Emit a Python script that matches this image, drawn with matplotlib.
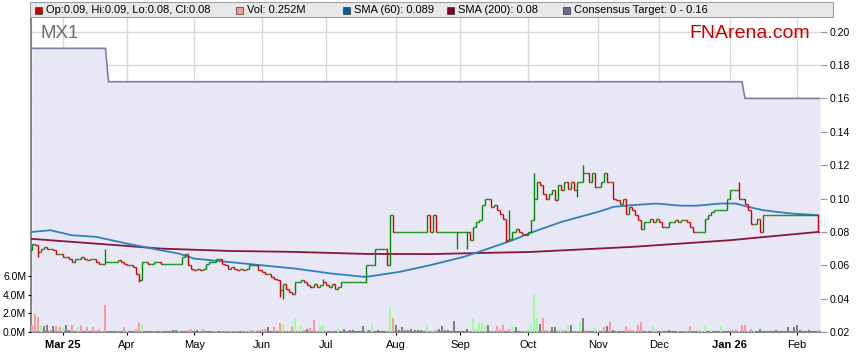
import numpy as np
import pandas as pd
import matplotlib
matplotlib.use('Agg')
import matplotlib.pyplot as plt
from matplotlib.collections import LineCollection
from matplotlib.patches import Rectangle

plt.rcParams['font.family'] = ['Liberation Sans', 'DejaVu Sans']

# trading days shown (weekdays), one OHLC bar per day
days = pd.bdate_range('2025-02-17', '2026-02-11')

first_open = 0.069
closes = [
    0.073, 0.072, 0.068, 0.070, 0.071, 0.070, 0.070, 0.069, 0.067, 0.067,   # 0
    0.065, 0.065, 0.064, 0.062, 0.064, 0.064, 0.065, 0.064, 0.063, 0.064,   # 10
    0.064, 0.062, 0.061, 0.061, 0.062, 0.062, 0.062, 0.062, 0.063, 0.062,   # 20
    0.061, 0.060, 0.060, 0.059, 0.055, 0.051, 0.062, 0.062, 0.061, 0.061,   # 30
    0.062, 0.062, 0.061, 0.061, 0.061, 0.061, 0.061, 0.061, 0.061, 0.065,   # 40
    0.067, 0.060, 0.058, 0.057, 0.058, 0.057, 0.058, 0.061, 0.062, 0.062,   # 50
    0.064, 0.064, 0.061, 0.060, 0.058, 0.059, 0.058, 0.057, 0.058, 0.057,   # 60
    0.058, 0.060, 0.060, 0.060, 0.057, 0.056, 0.055, 0.055, 0.053, 0.052,   # 70
    0.051, 0.045, 0.049, 0.046, 0.044, 0.043, 0.050, 0.050, 0.051, 0.050,   # 80
    0.048, 0.047, 0.049, 0.047, 0.048, 0.050, 0.048, 0.047, 0.049, 0.046,   # 90
    0.047, 0.050, 0.050, 0.050, 0.050, 0.050, 0.050, 0.050, 0.050, 0.060,   # 100
    0.060, 0.060, 0.070, 0.070, 0.070, 0.070, 0.060, 0.090, 0.080, 0.080,   # 110
    0.080, 0.080, 0.080, 0.080, 0.080, 0.080, 0.080, 0.080, 0.080, 0.090,   # 120
    0.080, 0.090, 0.080, 0.080, 0.080, 0.080, 0.080, 0.080, 0.080, 0.080,   # 130
    0.080, 0.080, 0.080, 0.075, 0.083, 0.086, 0.087, 0.096, 0.100, 0.100,   # 140
    0.095, 0.096, 0.093, 0.091, 0.088, 0.075, 0.076, 0.080, 0.082, 0.080,   # 150
    0.079, 0.078, 0.080, 0.087, 0.100, 0.110, 0.108, 0.103, 0.100, 0.103,   # 160
    0.105, 0.099, 0.108, 0.105, 0.110, 0.106, 0.110, 0.105, 0.110, 0.110,   # 170
    0.115, 0.115, 0.110, 0.115, 0.107, 0.107, 0.110, 0.115, 0.110, 0.110,   # 180
    0.100, 0.099, 0.097, 0.100, 0.091, 0.095, 0.093, 0.090, 0.087, 0.082,   # 190
    0.086, 0.086, 0.088, 0.086, 0.088, 0.086, 0.083, 0.083, 0.086, 0.086,   # 200
    0.087, 0.086, 0.087, 0.087, 0.086, 0.083, 0.080, 0.080, 0.080, 0.080,   # 210
    0.088, 0.090, 0.092, 0.093, 0.093, 0.093, 0.093, 0.100, 0.105, 0.105,   # 220
    0.105, 0.100, 0.100, 0.097, 0.093, 0.085, 0.085, 0.088, 0.080, 0.090,   # 230
    0.090, 0.090, 0.090, 0.090, 0.090, 0.090, 0.090, 0.090, 0.090, 0.090,   # 240
    0.090, 0.090, 0.090, 0.090, 0.090, 0.090, 0.090, 0.080,                 # 250
]
# wicks that reach past open/close
wick_high = {24: 0.070, 95: 0.052, 156: 0.093, 164: 0.115, 180: 0.120, 231: 0.110}
wick_low = {2: 0.065, 35: 0.050, 81: 0.041, 82: 0.040, 139: 0.070, 142: 0.070,
            155: 0.074, 178: 0.101}

# volume in millions: (day, volume, u=up / d=down / n=unchanged)
volume_bars = [
    (0, 0.8, 'd'), (1, 1.9, 'd'), (2, 1.6, 'd'), (3, 0.7, 'u'), (4, 0.6, 'n'),
    (5, 0.7, 'n'), (6, 0.25, 'd'), (7, 0.6, 'n'), (8, 0.6, 'd'), (9, 0.5, 'd'),
    (10, 0.4, 'u'), (11, 0.8, 'n'), (12, 0.25, 'n'), (13, 0.7, 'd'), (15, 0.5, 'u'),
    (16, 0.8, 'd'), (18, 0.5, 'd'), (20, 0.5, 'd'), (21, 0.25, 'd'), (22, 0.3, 'd'),
    (23, 0.1, 'u'), (24, 2.9, 'd'), (28, 0.15, 'd'), (30, 0.5, 'd'), (31, 0.1, 'u'),
    (34, 0.35, 'd'), (35, 1.0, 'd'), (36, 0.7, 'u'), (40, 0.15, 'd'), (42, 0.15, 'd'),
    (46, 0.25, 'n'), (47, 0.25, 'n'), (48, 0.1, 'u'), (51, 0.25, 'd'), (52, 0.35, 'd'),
    (54, 0.25, 'n'), (55, 0.15, 'd'), (56, 0.35, 'd'), (59, 0.1, 'd'), (60, 0.1, 'u'),
    (61, 0.1, 'n'), (62, 0.1, 'd'), (63, 0.1, 'd'), (64, 0.1, 'd'), (65, 0.1, 'u'),
    (66, 0.1, 'd'), (67, 0.1, 'd'), (69, 0.1, 'd'), (70, 0.15, 'u'), (71, 0.35, 'u'),
    (72, 0.25, 'd'), (73, 0.1, 'u'), (74, 0.25, 'd'), (75, 0.35, 'd'), (76, 0.35, 'd'),
    (77, 0.5, 'n'), (78, 0.15, 'n'), (79, 0.5, 'd'), (81, 1.0, 'd'), (82, 0.85, 'u'),
    (83, 0.15, 'd'), (84, 0.15, 'd'), (85, 0.6, 'd'), (86, 1.5, 'u'), (87, 0.25, 'u'),
    (88, 0.6, 'u'), (89, 0.2, 'd'), (90, 0.35, 'n'), (91, 0.4, 'd'), (92, 1.3, 'd'),
    (93, 0.15, 'u'), (94, 0.6, 'u'), (95, 0.8, 'u'), (96, 0.15, 'd'), (97, 0.1, 'n'),
    (98, 0.1, 'd'), (100, 0.5, 'u'), (102, 0.35, 'n'), (104, 0.25, 'n'), (105, 0.25, 'n'),
    (106, 0.1, 'n'), (108, 0.6, 'n'), (109, 0.35, 'u'), (110, 0.25, 'n'), (111, 0.7, 'u'),
    (112, 0.15, 'n'), (113, 0.25, 'n'), (115, 0.15, 'n'), (116, 0.15, 'd'), (117, 2.7, 'u'),
    (118, 1.5, 'd'), (119, 0.7, 'n'), (120, 0.25, 'n'), (121, 0.5, 'n'), (122, 0.25, 'n'),
    (123, 0.25, 'n'), (124, 0.3, 'n'), (125, 0.25, 'n'), (126, 0.25, 'n'), (127, 0.25, 'n'),
    (129, 0.7, 'u'), (130, 0.15, 'd'), (131, 0.15, 'u'), (132, 0.25, 'd'), (133, 0.35, 'n'),
    (134, 0.6, 'n'), (135, 0.25, 'n'), (136, 0.25, 'n'), (138, 1.2, 'n'), (139, 0.1, 'n'),
    (140, 0.15, 'n'), (141, 0.15, 'n'), (142, 0.35, 'n'), (143, 0.1, 'd'), (144, 1.45, 'u'),
    (145, 0.35, 'u'), (146, 0.95, 'u'), (147, 0.95, 'u'), (148, 0.6, 'u'), (149, 0.8, 'n'),
    (150, 0.15, 'd'), (151, 0.15, 'd'), (152, 0.6, 'd'), (153, 0.35, 'd'), (154, 0.8, 'd'),
    (155, 0.15, 'n'), (156, 0.35, 'd'), (157, 0.6, 'u'), (158, 0.5, 'n'), (159, 0.15, 'n'),
    (160, 0.15, 'd'), (161, 0.15, 'u'), (162, 0.35, 'u'), (163, 0.7, 'u'), (164, 4.1, 'u'),
    (165, 1.5, 'u'), (166, 0.9, 'n'), (167, 1.5, 'd'), (168, 0.25, 'd'), (169, 0.25, 'u'),
    (170, 0.5, 'n'), (171, 0.5, 'n'), (172, 0.35, 'u'), (173, 0.35, 'u'), (174, 0.25, 'd'),
    (175, 0.7, 'u'), (176, 0.7, 'n'), (177, 0.15, 'd'), (178, 0.15, 'u'), (179, 1.1, 'u'),
    (180, 1.5, 'n'), (181, 0.25, 'd'), (183, 0.1, 'n'), (184, 0.5, 'u'), (185, 0.25, 'u'),
    (187, 0.5, 'd'), (188, 0.6, 'n'), (189, 1.1, 'd'), (190, 0.25, 'n'), (191, 0.15, 'u'),
    (194, 0.6, 'd'), (195, 0.25, 'd'), (196, 0.25, 'd'), (197, 0.1, 'u'), (198, 0.7, 'd'),
    (199, 1.1, 'd'), (201, 0.15, 'd'), (203, 0.6, 'u'), (204, 0.15, 'd'), (206, 0.15, 'd'),
    (208, 0.25, 'n'), (210, 0.1, 'n'), (211, 0.1, 'u'), (213, 0.15, 'd'), (214, 0.15, 'd'),
    (215, 0.6, 'd'), (218, 0.35, 'u'), (219, 0.15, 'u'), (220, 0.8, 'u'), (221, 0.1, 'n'),
    (222, 0.25, 'u'), (225, 0.6, 'u'), (229, 0.25, 'd'), (230, 0.35, 'd'), (231, 0.1, 'u'),
    (232, 0.7, 'd'), (233, 0.7, 'd'), (234, 0.15, 'u'), (235, 0.35, 'd'), (236, 0.25, 'u'),
    (237, 0.1, 'n'), (238, 0.35, 'n'), (239, 0.1, 'n'), (240, 0.1, 'n'), (241, 0.1, 'n'),
    (242, 0.1, 'n'), (243, 0.25, 'n'), (244, 0.1, 'n'), (246, 0.1, 'n'), (247, 0.5, 'n'),
    (248, 0.1, 'n'), (249, 0.5, 'n'), (250, 0.7, 'n'), (251, 0.25, 'n'), (252, 0.1, 'n'),
    (254, 0.25, 'n'), (255, 0.1, 'n'), (256, 0.1, 'n'), (257, 0.25, 'd'),
]

sma60_day = [0, 6, 13, 21, 31, 42, 48, 53, 64, 75, 86, 98, 109, 120, 130, 141, 146,
             157, 163, 173, 185, 190, 196, 204, 212, 217, 225, 230, 234, 239, 248, 257]
sma60 = [0.080, 0.081, 0.078, 0.077, 0.073, 0.069, 0.067, 0.064, 0.062, 0.060, 0.058,
         0.055, 0.053, 0.056, 0.060, 0.065, 0.068, 0.075, 0.0795, 0.086, 0.092, 0.095,
         0.096, 0.097, 0.0957, 0.0957, 0.097, 0.097, 0.095, 0.093, 0.091, 0.090]
sma200_day = [0, 28, 42, 64, 86, 109, 130, 163, 196, 228, 257]
sma200 = [0.0758, 0.072, 0.070, 0.0686, 0.068, 0.0668, 0.0667, 0.068, 0.071, 0.075, 0.080]

target_day = [0, 24, 25, 232, 233, 257.5]
target = [0.19, 0.19, 0.17, 0.17, 0.16, 0.16]

month_labels = ['Mar 25', 'Apr', 'May', 'Jun', 'Jul', 'Aug', 'Sep', 'Oct', 'Nov', 'Dec',
                'Jan 26', 'Feb']

assert len(closes) == len(days)

W, H = 859, 363
fig = plt.figure(figsize=(W / 100, H / 100), dpi=100)
ax = fig.add_axes([31 / W, 1 - 332 / H, (820 - 31) / W, (332 - 16) / H])
axv = ax.twinx()   # volume, drawn on top, scale on the left

# first trading day of each month from March on
months = pd.Series(days.to_period('M'))
month_idx = [i for i in range(1, len(days)) if months[i] != months[i - 1]]

ax.set_xlim(-0.33, 257.5)
ax.set_ylim(0.02, 0.2094)
ax.set_axisbelow(True)
ax.grid(True, color='#D9D9D9', lw=1)

ax.fill_between(target_day, target, 0, color='#E7E7F6', zorder=1, lw=0)
ax.plot(target_day, target, color='#7E7EA6', lw=1.2, zorder=2)
ax.plot(sma200_day, sma200, color='#8A1538', lw=1.3, zorder=3)
ax.plot(sma60_day, sma60, color='#2F80BF', lw=1.3, zorder=3)

segs, cols = [], []
prev = first_open
for i, c in enumerate(closes):
    o = prev
    hi = max(o, c, wick_high.get(i, 0))
    lo = min(o, c, wick_low.get(i, 1))
    col = '#008800' if c >= o else '#D00000'
    segs += [[(i, lo), (i, hi)], [(i - 0.5, o), (i, o)], [(i, c), (i + 0.5, c)]]
    cols += [col] * 3
    prev = c
ax.add_collection(LineCollection(segs, colors=cols, linewidths=1.0, zorder=4))

ax.yaxis.tick_right()
ax.set_yticks(np.arange(0.02, 0.2001, 0.02))
ax.set_yticklabels(['%.2f' % v for v in np.arange(0.02, 0.2001, 0.02)])
ax.tick_params(axis='y', which='both', left=False, labelleft=False, right=True,
               labelright=True, length=5, color='#999999', labelsize=7.5, pad=2)
ax.set_xticks(month_idx)
ax.set_xticklabels(month_labels)
ax.tick_params(axis='x', length=2.5, color='black', labelsize=8, pad=3)
for lab in ax.get_xticklabels():
    if ' ' in lab.get_text():
        lab.set_fontweight('bold')
for s in ['top', 'right']:
    ax.spines[s].set_visible(False)
for s in ['left', 'bottom']:
    ax.spines[s].set_color('#888888')
    ax.spines[s].set_linewidth(1.5)

axv.set_ylim(0, 316 / 9.33)
kind_col = {'u': '#99FF99', 'd': '#FF9999', 'n': '#808080'}
axv.bar([b[0] for b in volume_bars], [b[1] for b in volume_bars], width=0.65,
        color=[kind_col[b[2]] for b in volume_bars], lw=0)
axv.set_yticks([0, 2, 4, 6])
axv.set_yticklabels(['0.0M', '2.0M', '4.0M', '6.0M'])
axv.tick_params(axis='y', which='both', left=True, labelleft=True, right=False,
                labelright=False, length=2.5, color='black', labelsize=7.5, pad=1)
for s in axv.spines.values():
    s.set_visible(False)

# header bar with the legend
fig.add_artist(Rectangle((30 / W, 1 - 17 / H), 803 / W, 15 / H, transform=fig.transFigure,
                         facecolor='#E8E8E8', edgecolor='#A0A0A0', lw=0.8))
legend = [(35, '#CC0000', 'Op:0.09, Hi:0.09, Lo:0.08, Cl:0.08'),
          (236, '#FF9999', 'Vol: 0.252M'),
          (343, '#0060A0', 'SMA (60): 0.089'),
          (447, '#800020', 'SMA (200): 0.08'),
          (563, '#6B6B9B', 'Consensus Target: 0 - 0.16')]
for x, col, txt in legend:
    fig.add_artist(Rectangle((x / W, 1 - 13.5 / H), 7 / W, 7 / H, transform=fig.transFigure,
                             facecolor=col, edgecolor='#333333', lw=0.5))
    fig.text((x + 11) / W, 1 - 10 / H, txt, fontsize=8, va='center', ha='left')

fig.text(40 / W, 1 - 33 / H, 'MX1', fontsize=13.5, color='#6E6E6E', va='center')
fig.text(689 / W, 1 - 33 / H, 'FNArena.com', fontsize=14, color='#CC0000', va='center')

fig.savefig('out.png', dpi=100)
